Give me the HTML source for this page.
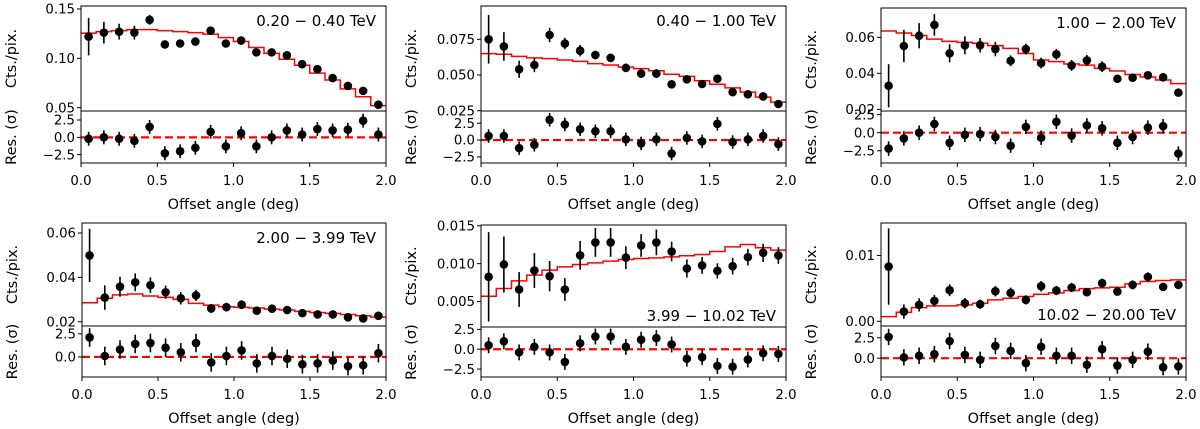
<!DOCTYPE html>
<html><head><meta charset="utf-8">
<style>
html,body{margin:0;padding:0;background:#fff;}
svg{display:block;font-family:"DejaVu Sans","Liberation Sans",sans-serif;}
</style></head>
<body>
<svg id="fig" width="1200" height="429" viewBox="0 0 1200 429" xmlns="http://www.w3.org/2000/svg"></svg>
<script>
// ---- data ----
const offsets = [0.05,0.15,0.25,0.35,0.45,0.55,0.65,0.75,0.85,0.95,1.05,1.15,1.25,1.35,1.45,1.55,1.65,1.75,1.85,1.95];
const xTicks = [0.0,0.5,1.0,1.5,2.0];
const xTickLabels = ["0.0","0.5","1.0","1.5","2.0"];
const energyLabels = ["0.20 \u2212 0.40 TeV","0.40 \u2212 1.00 TeV","1.00 \u2212 2.00 TeV","2.00 \u2212 3.99 TeV","3.99 \u2212 10.02 TeV","10.02 \u2212 20.00 TeV"];

const p1Counts = [0.122,0.126,0.127,0.126,0.139,0.114,0.115,0.117,0.128,0.115,0.118,0.106,0.106,0.103,0.094,0.089,0.080,0.072,0.067,0.053];
const p1Err    = [0.019,0.011,0.008,0.007,0.005,0.004,0.004,0.004,0.004,0.004,0.003,0.003,0.003,0.003,0.003,0.003,0.003,0.003,0.003,0.002];
const p1Model  = [0.1255,0.127,0.128,0.129,0.129,0.128,0.127,0.126,0.1245,0.121,0.117,0.111,0.105,0.099,0.093,0.085,0.078,0.069,0.061,0.052];
const p1Res    = [-0.2,0.0,-0.2,-0.5,1.5,-2.3,-2.0,-1.5,0.8,-1.3,0.6,-1.3,0.0,1.0,0.4,1.2,1.0,1.1,2.4,0.4];

const p2Counts = [0.075,0.070,0.054,0.057,0.078,0.072,0.067,0.064,0.062,0.055,0.051,0.051,0.0435,0.047,0.0437,0.0474,0.038,0.0365,0.035,0.0297];
const p2Err    = [0.017,0.010,0.006,0.005,0.005,0.004,0.004,0.003,0.003,0.003,0.003,0.003,0.002,0.002,0.002,0.002,0.002,0.002,0.002,0.002];
const p2Model  = [0.065,0.0645,0.063,0.062,0.0615,0.0605,0.0595,0.058,0.057,0.0555,0.0545,0.053,0.0505,0.049,0.046,0.0435,0.041,0.038,0.0345,0.031];
const p2Res    = [0.6,0.6,-1.2,-0.7,3.0,2.3,1.6,1.3,1.3,0.1,-0.5,0.1,-2.0,0.3,-0.2,2.4,-0.3,0.1,0.6,-0.6];

const p3Counts = [0.0331,0.0552,0.0609,0.0669,0.0511,0.0556,0.0556,0.0535,0.047,0.0535,0.0457,0.0506,0.0444,0.0472,0.0437,0.037,0.0376,0.0389,0.0378,0.0293];
const p3Err    = [0.012,0.009,0.007,0.006,0.005,0.005,0.004,0.004,0.003,0.003,0.003,0.003,0.003,0.003,0.003,0.002,0.002,0.002,0.002,0.002];
const p3Model  = [0.0635,0.0624,0.061,0.059,0.0578,0.0572,0.0567,0.0554,0.0539,0.051,0.0474,0.0465,0.0452,0.0446,0.0428,0.0413,0.0394,0.038,0.0363,0.0343];
const p3Res    = [-2.2,-0.8,0.0,1.2,-1.4,-0.3,-0.2,-0.6,-1.8,0.8,-0.7,1.5,-0.4,1.0,0.6,-1.4,-0.6,0.7,0.9,-2.9];

const p4Counts = [0.0499,0.0309,0.0358,0.0378,0.0365,0.0333,0.0306,0.0319,0.026,0.0266,0.0277,0.025,0.0259,0.0253,0.0239,0.0233,0.0233,0.022,0.0215,0.0227];
const p4Err    = [0.012,0.0055,0.0045,0.004,0.0035,0.003,0.0028,0.0025,0.002,0.002,0.002,0.0018,0.0017,0.0016,0.0015,0.0015,0.0014,0.0013,0.0013,0.0012];
const p4Model  = [0.0286,0.0306,0.0321,0.0325,0.0316,0.031,0.0301,0.0283,0.0275,0.0268,0.0265,0.0262,0.0257,0.0253,0.0247,0.0242,0.0238,0.0233,0.0227,0.0221];
const p4Res    = [2.1,0.1,0.8,1.4,1.5,1.0,0.5,1.5,-0.6,0.1,0.7,-0.7,0.1,-0.2,-0.8,-0.7,-0.4,-1.0,-0.9,0.4];

const p5Counts = [0.00826,0.00989,0.00659,0.0091,0.00835,0.00659,0.0111,0.0128,0.0128,0.0108,0.0124,0.0128,0.0116,0.00936,0.00976,0.00905,0.00967,0.01086,0.01143,0.01108];
const p5Err    = [0.0059,0.0037,0.0023,0.0023,0.002,0.0015,0.0019,0.0019,0.0019,0.0015,0.0015,0.0017,0.0013,0.0012,0.0011,0.001,0.0011,0.0011,0.0012,0.0011];
const p5Model  = [0.0057,0.00672,0.00773,0.00848,0.00914,0.00958,0.00989,0.0101,0.01033,0.01055,0.01068,0.01077,0.0109,0.01104,0.01121,0.01161,0.01222,0.01253,0.01209,0.01178];
const p5Res    = [0.5,1.0,-0.4,0.3,-0.4,-1.6,0.75,1.6,1.6,0.3,1.2,1.4,0.6,-1.2,-1.0,-2.1,-2.2,-1.3,-0.5,-0.6];

const p6Counts = [0.00832,0.00147,0.00249,0.0031,0.00472,0.00274,0.00259,0.00457,0.00431,0.00325,0.00533,0.00467,0.00513,0.00442,0.00579,0.00452,0.00553,0.00675,0.00523,0.00553];
const p6Err    = [0.0058,0.0011,0.001,0.0009,0.0009,0.0008,0.0007,0.0008,0.0008,0.0007,0.0008,0.0007,0.0007,0.0006,0.0007,0.0006,0.0007,0.0007,0.0006,0.0006];
const p6Model  = [0.00071,0.00137,0.00208,0.00234,0.00234,0.00249,0.00274,0.00325,0.0035,0.00376,0.00411,0.00431,0.00467,0.00497,0.00508,0.00518,0.00569,0.00604,0.00619,0.00629];
const p6Res    = [2.6,0.1,0.3,0.5,2.1,0.4,-0.2,1.5,0.9,-0.6,1.4,0.3,0.3,-0.8,1.1,-0.9,-0.2,0.8,-1.1,-1.0];

const p1Ticks=[0.05,0.10,0.15], p1TickLabels=["0.05","0.10","0.15"];
const p2Ticks=[0.025,0.050,0.075], p2TickLabels=["0.025","0.050","0.075"];
const p3Ticks=[0.02,0.04,0.06], p3TickLabels=["0.02","0.04","0.06"];
const p4Ticks=[0.02,0.04,0.06], p4TickLabels=["0.02","0.04","0.06"];
const p5Ticks=[0.005,0.010,0.015], p5TickLabels=["0.005","0.010","0.015"];
const p6Ticks=[0.00,0.01], p6TickLabels=["0.00","0.01"];
const resTicksFull=[-2.5,0,2.5], resLabelsFull=["\u22122.5","0.0","2.5"];
const resTicksUp=[0,2.5], resLabelsUp=["0.0","2.5"];

const NS="http://www.w3.org/2000/svg";
const svg=document.getElementById('fig');
function el(tag,attrs,parent){const e=document.createElementNS(NS,tag);for(const k in attrs)e.setAttribute(k,attrs[k]);(parent||svg).appendChild(e);return e;}

const panels=[
 {L:81,R:386,T:6,M:111,B:163,yd:[0.0466,0.153],rd:[-3.7,3.8],c:p1Counts,e:p1Err,m:p1Model,r:p1Res,t:p1Ticks,tl:p1TickLabels,rt:resTicksFull,rl:resLabelsFull,lab:0,top:true},
 {L:481,R:786,T:6,M:111,B:163,yd:[0.0248,0.0983],rd:[-3.4,4.3],c:p2Counts,e:p2Err,m:p2Model,r:p2Res,t:p2Ticks,tl:p2TickLabels,rt:resTicksFull,rl:resLabelsFull,lab:1,top:true},
 {L:881,R:1186,T:8,M:111,B:163,yd:[0.0191,0.0763],rd:[-4.2,3.0],c:p3Counts,e:p3Err,m:p3Model,r:p3Res,t:p3Ticks,tl:p3TickLabels,rt:resTicksFull,rl:resLabelsFull,lab:2,top:true},
 {L:82,R:386,T:223,M:326,B:377,yd:[0.0181,0.0645],rd:[-2.17,3.34],c:p4Counts,e:p4Err,m:p4Model,r:p4Res,t:p4Ticks,tl:p4TickLabels,rt:resTicksUp,rl:resLabelsUp,lab:3,top:true},
 {L:481,R:786,T:225,M:327,B:377,yd:[0.00164,0.0151],rd:[-3.5,2.8],c:p5Counts,e:p5Err,m:p5Model,r:p5Res,t:p5Ticks,tl:p5TickLabels,rt:resTicksFull,rl:resLabelsFull,lab:4,top:false},
 {L:881,R:1186,T:223,M:326,B:377,yd:[-0.00072,0.01494],rd:[-2.3,3.94],c:p6Counts,e:p6Err,m:p6Model,r:p6Res,t:p6Ticks,tl:p6TickLabels,rt:resTicksUp,rl:resLabelsUp,lab:5,top:false}
];

panels.forEach((p,i)=>{
  const g=el('g',{});
  
  
  const xs=v=>p.L+(v-0)/(2-0)*(p.R-p.L);
  const ys=v=>p.M-(v-p.yd[0])/(p.yd[1]-p.yd[0])*(p.M-p.T);
  const rs=v=>p.B-(v-p.rd[0])/(p.rd[1]-p.rd[0])*(p.B-p.M);
  const cid='clip'+i;
  const defs=el('defs',{},g);
  const cp=el('clipPath',{id:cid},defs);
  el('rect',{x:p.L,y:p.T,width:p.R-p.L,height:p.M-p.T},cp);
  let d='';
  p.m.forEach((v,k)=>{const x0=xs(k*0.1),x1=xs((k+1)*0.1),y=ys(v);d+=(k===0?'M':'L')+x0+','+y+'L'+x1+','+y;});
  const ml=el('path',{d:d,fill:'none',stroke:'#ff0000','stroke-width':1.5,'clip-path':'url(#'+cid+')'},g);
  
  
  offsets.forEach((x,k)=>{
    const cx=xs(x);
    const eb=el('line',{x1:cx,x2:cx,y1:ys(p.c[k]-p.e[k]),y2:ys(p.c[k]+p.e[k]),stroke:'#000','stroke-width':1.6,'clip-path':'url(#'+cid+')'},g);
    
    
    const pt=el('circle',{cx:cx,cy:ys(p.c[k]),r:4.3,fill:'#000'},g);
    
    
  });
  const zl=el('line',{x1:p.L,x2:p.R,y1:rs(0),y2:rs(0),stroke:'#ff0000','stroke-width':2.2,'stroke-dasharray':'8,4'},g);
  
  
  offsets.forEach((x,k)=>{
    const cx=xs(x);
    const eb=el('line',{x1:cx,x2:cx,y1:rs(p.r[k]-1),y2:rs(p.r[k]+1),stroke:'#000','stroke-width':1.6},g);
    
    
    const pt=el('circle',{cx:cx,cy:rs(p.r[k]),r:4.3,fill:'#000'},g);
    
    
  });
  const f1=el('rect',{x:p.L,y:p.T,width:p.R-p.L,height:p.M-p.T,fill:'none',stroke:'#000','stroke-width':1},g);
  
  
  const f2=el('rect',{x:p.L,y:p.M,width:p.R-p.L,height:p.B-p.M,fill:'none',stroke:'#000','stroke-width':1},g);
  
  
  p.t.forEach((v,k)=>{
    const y=ys(v);
    el('line',{x1:p.L-4,x2:p.L,y1:y,y2:y,stroke:'#000','stroke-width':1},g);
    const t=el('text',{x:p.L-6,y:y+4.7,'text-anchor':'end','font-size':13.3,fill:'#000'},g);
    t.textContent=p.tl[k];
    
    
  });
  p.rt.forEach((v,k)=>{
    const y=rs(v);
    el('line',{x1:p.L-4,x2:p.L,y1:y,y2:y,stroke:'#000','stroke-width':1},g);
    const t=el('text',{x:p.L-6,y:y+4.7,'text-anchor':'end','font-size':13.3,fill:'#000'},g);
    t.textContent=p.rl[k];
    
    
  });
  xTicks.forEach((v,k)=>{
    const x=xs(v);
    el('line',{x1:x,x2:x,y1:p.B,y2:p.B+4,stroke:'#000','stroke-width':1},g);
    const t=el('text',{x:x,y:p.B+22,'text-anchor':'middle','font-size':13.3,fill:'#000'},g);
    t.textContent=xTickLabels[k];
    
    
  });
  const xl=el('text',{x:(p.L+p.R)/2,y:p.B+46,'text-anchor':'middle','font-size':14.5,fill:'#000'},g);
  xl.textContent='Offset angle (deg)';
  
  
  const yx=p.L-65;
  const yl=el('text',{x:yx,y:(p.T+p.M)/2,'text-anchor':'middle','font-size':14.5,fill:'#000',transform:'rotate(-90 '+yx+' '+((p.T+p.M)/2)+')'},g);
  yl.textContent='Cts./pix.';
  
  
  const ry=(p.M+p.B)/2;
  const rl=el('text',{x:yx,y:ry,'text-anchor':'middle','font-size':14.5,fill:'#000',transform:'rotate(-90 '+yx+' '+ry+')'},g);
  rl.textContent='Res. (\u03c3)';
  
  
  const ly=p.top?p.T+20:p.M-6;
  const et=el('text',{x:p.R-10,y:ly,'text-anchor':'end','font-size':15,fill:'#000'},g);
  et.textContent=energyLabels[p.lab];
  
  
});
</script>
</body></html>
